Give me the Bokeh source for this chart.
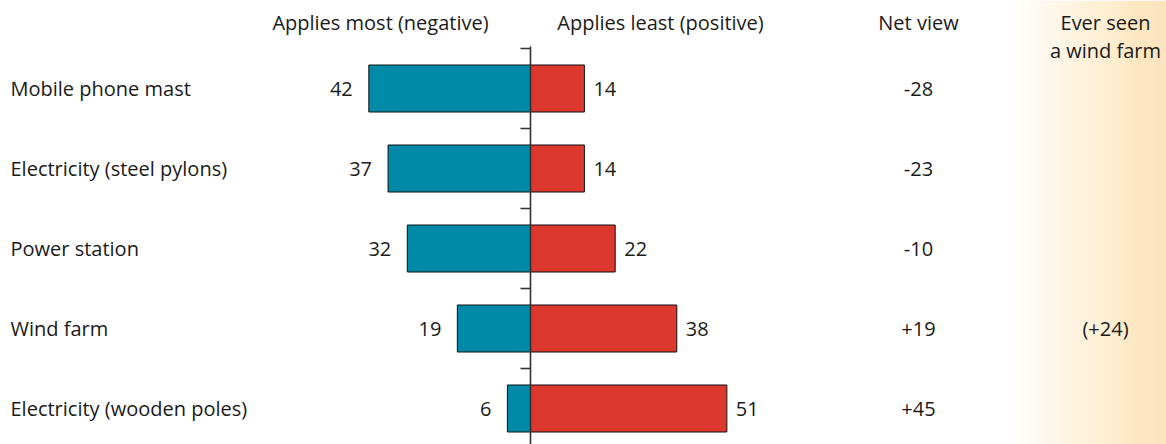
from bokeh.plotting import figure
from bokeh.models import Range1d, ColumnDataSource
from bokeh.core.properties import value
from bokeh.embed import file_html
from bokeh.resources import INLINE

# Survey: which development the statement "applies most / least" to
categories = ["Mobile phone mast", "Electricity (steel pylons)", "Power station",
              "Wind farm", "Electricity (wooden poles)"]
applies_most = [42, 37, 32, 19, 6]      # negative view
applies_least = [14, 14, 22, 38, 51]    # positive view
net_view = ["-28", "-23", "-10", "+19", "+45"]
seen_wind_farm = ["", "", "", "(+24)", ""]

W, H = 1166, 444
PX = 3.85            # pixels per percentage point
AXIS_PX = 530        # screen x of the zero line
ROW0, ROW_STEP = 88, 80

x_lo = -AXIS_PX / PX
x_hi = (W - AXIS_PX) / PX
y_top = -ROW0 / ROW_STEP
y_bot = (H - ROW0) / ROW_STEP

def sx(px):
    """screen x (pixels) -> data x"""
    return (px - AXIS_PX) / PX

p = figure(width=W, height=H, output_backend="svg", toolbar_location=None,
           x_range=Range1d(x_lo, x_hi), y_range=Range1d(y_bot, y_top),
           min_border=0)
p.axis.visible = False
p.grid.visible = False
p.outline_line_color = None
p.background_fill_color = "white"
p.border_fill_color = "white"

FONT = value("Open Sans")
TXT = "#1a1a1a"
FS = "20px"

# shaded column for "Ever seen a wind farm"
n_strips = 80
g0, g1 = sx(1008), x_hi
end_rgb = (253, 226, 180)
lefts, rights, cols = [], [], []
for k in range(n_strips):
    t = (k + 0.5) / n_strips
    r = round(255 + (end_rgb[0] - 255) * t)
    g = round(255 + (end_rgb[1] - 255) * t)
    b = round(255 + (end_rgb[2] - 255) * t)
    lefts.append(g0 + (g1 - g0) * k / n_strips)
    rights.append(g0 + (g1 - g0) * (k + 1) / n_strips + 0.05)
    cols.append("#%02x%02x%02x" % (r, g, b))
p.quad(left=lefts, right=rights, bottom=y_bot, top=y_top, fill_color=cols,
       line_color=None)

rows = list(range(len(categories)))
src = ColumnDataSource(dict(
    y=rows, cat=categories,
    neg=[-v for v in applies_most], pos=applies_least,
    neg_lbl=[str(v) for v in applies_most], pos_lbl=[str(v) for v in applies_least],
    net=net_view, seen=seen_wind_farm,
))

BAR_H = 47 / ROW_STEP
p.hbar(y="y", left="neg", right=0, height=BAR_H, source=src,
       fill_color="#008aa7", line_color="#111111", line_width=1)
p.hbar(y="y", left=0, right="pos", height=BAR_H, source=src,
       fill_color="#dc382e", line_color="#111111", line_width=1)

# zero line with tick marks between rows
p.segment(x0=0, x1=0, y0=(46 - ROW0) / ROW_STEP, y1=y_bot,
          line_color="#333333", line_width=1.6)
tick_y = [r - 0.5 for r in rows]
p.segment(x0=[sx(520)] * len(tick_y), x1=[0] * len(tick_y), y0=tick_y, y1=tick_y,
          line_color="#333333", line_width=1.6)

# value labels next to the bars
p.text(x="neg", y="y", text="neg_lbl", source=src, x_offset=-16,
       text_align="right", text_baseline="middle", text_font=FONT,
       text_font_size=FS, text_color=TXT)
p.text(x="pos", y="y", text="pos_lbl", source=src, x_offset=9,
       text_align="left", text_baseline="middle", text_font=FONT,
       text_font_size=FS, text_color=TXT)

# row labels, net view, wind-farm column
p.text(x=sx(10), y="y", text="cat", source=src, text_align="left",
       text_baseline="middle", text_font=FONT, text_font_size=FS, text_color=TXT)
p.text(x=sx(918), y="y", text="net", source=src, text_align="center",
       text_baseline="middle", text_font=FONT, text_font_size=FS, text_color=TXT)
p.text(x=sx(1105), y="y", text="seen", source=src, text_align="center",
       text_baseline="middle", text_font=FONT, text_font_size=FS, text_color=TXT)

# column headers
hy = (22 - ROW0) / ROW_STEP
hy2 = (50 - ROW0) / ROW_STEP
p.text(x=[sx(380), sx(660), sx(918), sx(1105), sx(1105)],
       y=[hy, hy, hy, hy, hy2],
       text=["Applies most (negative)", "Applies least (positive)", "Net view",
             "Ever seen", "a wind farm"],
       text_align="center", text_baseline="middle", text_font=FONT,
       text_font_size=FS, text_color=TXT)

open("out.html", "w").write(file_html(p, INLINE))
